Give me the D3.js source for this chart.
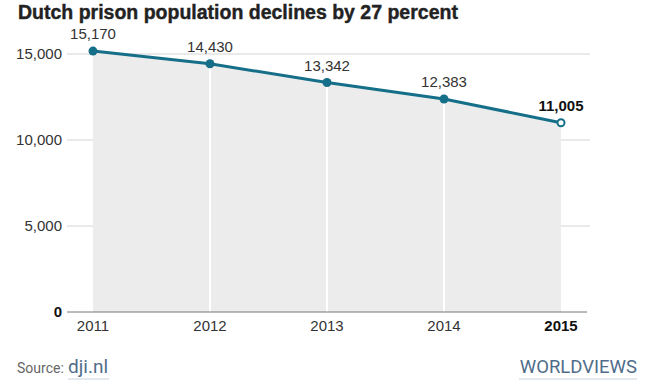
<!DOCTYPE html>
<html>
<head>
<meta charset="utf-8">
<script src="https://cdn.jsdelivr.net/npm/d3@7"></script>
<style>
  body { margin: 0; background: #fff; }
  svg { display: block; }
</style>
</head>
<body>
<div id="chart"></div>
<script>
const years = [2011, 2012, 2013, 2014, 2015];
const prisoners = [15170, 14430, 13342, 12383, 11005];
const yTicks = [0, 5000, 10000, 15000];

const W = 652, H = 387;
const margin = {top: 54, right: 91, bottom: 75, left: 93};

const svg = d3.select('#chart').append('svg')
  .attr('width', W)
  .attr('height', H);

const data = years.map((y, i) => ({year: y, value: prisoners[i]}));

const x = d3.scaleLinear()
  .domain([years[0], years[years.length - 1]])
  .range([margin.left, W - margin.right]);

const y = d3.scaleLinear()
  .domain([0, 15000])
  .range([H - margin.bottom, margin.top]);

// title
svg.append('text')
  .attr('x', 18).attr('y', 19)
  .style('font-family', 'Liberation Sans, Arial, sans-serif')
  .style('font-weight', 'bold')
  .style('font-size', '19.5px')
  .style('fill', '#222')
  .style('stroke', '#222')
  .style('stroke-width', 0.4)
  .text('Dutch prison population declines by 27 percent');

// horizontal gridlines
svg.append('g')
  .selectAll('line')
  .data(yTicks.filter(d => d > 0))
  .enter().append('line')
  .attr('x1', 67).attr('x2', 590)
  .attr('y1', d => y(d)).attr('y2', d => y(d))
  .style('stroke', '#d4d4d4')
  .style('stroke-width', 1);

// area under line
const area = d3.area()
  .x(d => x(d.year))
  .y0(y(0))
  .y1(d => y(d.value));

svg.append('path')
  .datum(data)
  .attr('d', area)
  .style('fill', '#ececec');

// white vertical separators
svg.append('g')
  .selectAll('line')
  .data(data.slice(1, -1))
  .enter().append('line')
  .attr('x1', d => x(d.year)).attr('x2', d => x(d.year))
  .attr('y1', d => y(d.value)).attr('y2', y(0))
  .style('stroke', '#fff')
  .style('stroke-width', 2);

// baseline
svg.append('line')
  .attr('x1', 67).attr('x2', 587)
  .attr('y1', y(0)).attr('y2', y(0))
  .style('stroke', '#777')
  .style('stroke-width', 1);

// y axis labels
svg.append('g')
  .selectAll('text')
  .data(yTicks)
  .enter().append('text')
  .attr('x', 62)
  .attr('y', d => y(d))
  .attr('dy', '0.35em')
  .attr('text-anchor', 'end')
  .style('font-family', 'Liberation Sans, Arial, sans-serif')
  .style('font-size', '15px')
  .style('font-weight', d => d === 0 ? 'bold' : 'normal')
  .style('fill', d => d === 0 ? '#111' : '#333')
  .text(d => d3.format(',')(d));

// x axis labels
svg.append('g')
  .selectAll('text')
  .data(years)
  .enter().append('text')
  .attr('x', d => x(d))
  .attr('y', y(0) + 19)
  .attr('text-anchor', 'middle')
  .style('font-family', 'Liberation Sans, Arial, sans-serif')
  .style('font-size', '15px')
  .style('font-weight', (d, i) => i === years.length - 1 ? 'bold' : 'normal')
  .style('fill', (d, i) => i === years.length - 1 ? '#111' : '#333')
  .text(d => d);

// the line
const line = d3.line()
  .x(d => x(d.year))
  .y(d => y(d.value));

svg.append('path')
  .datum(data)
  .attr('d', line)
  .style('fill', 'none')
  .style('stroke', '#156f88')
  .style('stroke-width', 3);

// points
svg.append('g')
  .selectAll('circle')
  .data(data)
  .enter().append('circle')
  .attr('cx', d => x(d.year))
  .attr('cy', d => y(d.value))
  .attr('r', (d, i) => i === data.length - 1 ? 3.5 : 4.5)
  .style('fill', (d, i) => i === data.length - 1 ? '#fff' : '#156f88')
  .style('stroke', '#156f88')
  .style('stroke-width', (d, i) => i === data.length - 1 ? 2 : 0);

// value labels
svg.append('g')
  .selectAll('text')
  .data(data)
  .enter().append('text')
  .attr('x', d => x(d.year))
  .attr('y', d => y(d.value) - 12)
  .attr('text-anchor', 'middle')
  .style('font-family', 'Liberation Sans, Arial, sans-serif')
  .style('font-size', '15px')
  .style('font-weight', (d, i) => i === data.length - 1 ? 'bold' : 'normal')
  .style('fill', (d, i) => i === data.length - 1 ? '#111' : '#333')
  .text(d => d3.format(',')(d.value));

// footer
const foot = svg.append('g').style('font-family', 'Roboto, sans-serif');
foot.append('text')
  .attr('x', 17).attr('y', 373)
  .style('font-size', '14px')
  .style('fill', '#666')
  .text('Source:');
foot.append('text')
  .attr('x', 68).attr('y', 373)
  .style('font-size', '19px')
  .style('fill', '#4f6d8a')
  .text('dji.nl');
foot.append('line')
  .attr('x1', 68).attr('x2', 109)
  .attr('y1', 379).attr('y2', 379)
  .style('stroke', '#c8d3dd');
foot.append('text')
  .attr('x', 637).attr('y', 373)
  .attr('text-anchor', 'end')
  .style('font-size', '18.5px')
  .style('fill', '#4f6d8a')
  .text('WORLDVIEWS');
foot.append('line')
  .attr('x1', 519).attr('x2', 637)
  .attr('y1', 379).attr('y2', 379)
  .style('stroke', '#c8d3dd');
</script>
</body>
</html>
